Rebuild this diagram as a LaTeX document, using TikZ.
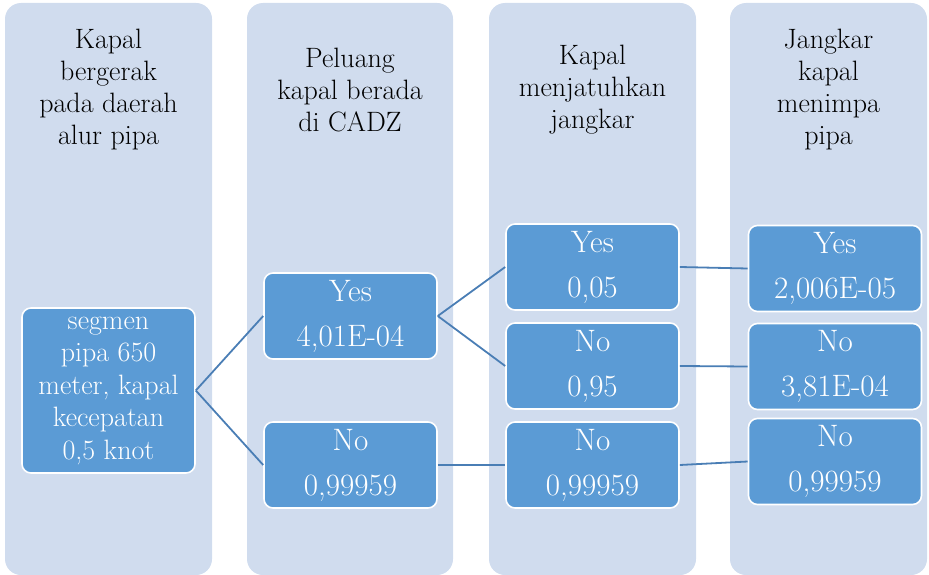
\documentclass[tikz,border=0pt]{standalone}
\usepackage{fontspec}
\definecolor{colbg}{HTML}{D0DCEE}
\definecolor{boxbg}{HTML}{5B9BD5}
\definecolor{linec}{HTML}{4A7EB5}
\tikzset{
  colbox/.style={fill=colbg, draw=none, rounded corners=16pt, inner sep=0pt},
  hdr/.style={align=center, text=black, font=\fontsize{28}{32}\selectfont},
  pbox/.style={fill=boxbg, draw=white, line width=1.6pt, rounded corners=9pt,
    text=white, align=center, inner sep=0pt, minimum width=173pt, minimum height=86pt,
    font=\fontsize{31}{45}\selectfont},
  rootbox/.style={pbox, minimum height=165pt, font=\fontsize{28}{32.5}\selectfont},
  conn/.style={draw=linec, line width=1.8pt}
}
\begin{document}
\begin{tikzpicture}[x=1pt,y=-1pt]
\useasboundingbox (0,0) rectangle (929,575);
% columns
\node[colbox, minimum width=207pt, minimum height=572pt] (col1) at (108.5,289) {};
\node[colbox, minimum width=206pt, minimum height=572pt] (col2) at (350,289) {};
\node[colbox, minimum width=207pt, minimum height=572pt] (col3) at (592.5,289) {};
\node[colbox, minimum width=197pt, minimum height=572pt] (col4) at (828.5,289) {};
% headers
\node[hdr] (h1) at (108.5,90) {Kapal\\bergerak\\pada daerah\\alur pipa};
\node[hdr] (h2) at (350,90) {Peluang\\kapal berada\\di CADZ};
\node[hdr] (h3) at (592.5,90) {Kapal\\menjatuhkan\\jangkar};
\node[hdr] (h4) at (828.5,90) {Jangkar\\kapal\\menimpa\\pipa};
% boxes
\node[rootbox] (root) at (108.5,390.5) {segmen\\pipa 650\\meter, kapal\\kecepatan\\0,5 knot};
\node[pbox] (y2) at (350.5,316) {Yes\\4,01E-04};
\node[pbox] (n2) at (350.5,465) {No\\0,99959};
\node[pbox] (y3) at (592.5,267) {Yes\\0,05};
\node[pbox] (n3a) at (592.5,366) {No\\0,95};
\node[pbox] (n3b) at (592.5,465) {No\\0,99959};
\node[pbox] (y4) at (835,268.5) {Yes\\2,006E-05};
\node[pbox] (n4a) at (835,366.5) {No\\3,81E-04};
\node[pbox] (n4b) at (835,461.5) {No\\0,99959};
% connectors
\draw[conn] (root.east) -- (y2.west);
\draw[conn] (root.east) -- (n2.west);
\draw[conn] (y2.east) -- (y3.west);
\draw[conn] (y2.east) -- (n3a.west);
\draw[conn] (n2.east) -- (n3b.west);
\draw[conn] (y3.east) -- (y4.west);
\draw[conn] (n3a.east) -- (n4a.west);
\draw[conn] (n3b.east) -- (n4b.west);
\end{tikzpicture}
\end{document}
